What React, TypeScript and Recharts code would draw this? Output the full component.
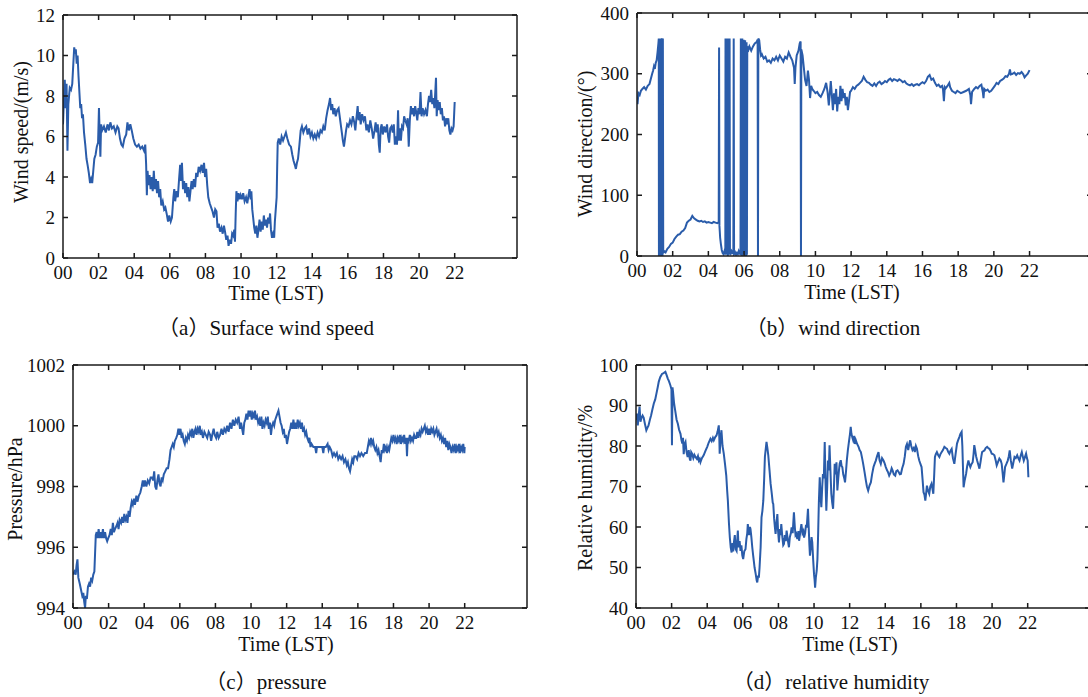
import { LineChart, Line, XAxis, YAxis } from 'recharts'

const LINE = '#2a5caa'
const AXIS = '#1a1a1a'
const SERIF = "'Liberation Serif', 'Times New Roman', 'Noto Sans CJK SC', serif"

const hourTicks = [0, 2, 4, 6, 8, 10, 12, 14, 16, 18, 20, 22]
const speedTicks = [0, 2, 4, 6, 8, 10, 12]
const dirTicks = [0, 100, 200, 300, 400]
const pressTicks = [994, 996, 998, 1000, 1002]
const rhTicks = [40, 50, 60, 70, 80, 90, 100]

// [hour, value]
const windSpeed: [number, number][] = [
  [0,6.6],[0.05,7.8],[0.1,8.8],[0.15,7.4],[0.2,8.6],[0.25,5.3],[0.3,7.6],[0.38,8.4],[0.45,8.3],[0.52,8.6],[0.58,9.6],[0.63,10.4],[0.68,10.1],[0.72,10.3],[0.77,9.6],[0.82,10.0],[0.87,9.0],[0.92,8.2],[0.97,7.4],[1.02,7.6],[1.07,6.9],[1.12,7.1],[1.18,6.2],[1.25,5.6],[1.32,4.9],[1.38,4.6],[1.45,4.2],[1.52,3.7],[1.58,3.9],[1.64,3.7],[1.7,4.3],[1.76,4.9],[1.83,5.1],[1.9,5.5],[1.97,5.7],[2.02,7.4],[2.06,6.1],[2.1,5.0],[2.14,6.6],[2.2,6.3],[2.3,6.5],[2.4,6.2],[2.5,6.6],[2.58,6.3],[2.66,6.7],[2.75,6.4],[2.85,6.5],[2.95,6.2],[3.05,6.5],[3.12,6.4],[3.2,5.9],[3.28,5.6],[3.36,5.5],[3.45,5.9],[3.55,6.1],[3.62,6.7],[3.7,6.3],[3.78,6.6],[3.86,6.3],[3.95,5.9],[4.05,5.6],[4.15,5.5],[4.25,5.6],[4.35,5.4],[4.45,5.5],[4.55,5.3],[4.62,5.6],[4.67,4.6],[4.71,3.1],[4.75,4.3],[4.8,3.6],[4.86,4.1],[4.92,3.4],[4.98,4.0],[5.04,3.3],[5.1,4.3],[5.16,3.4],[5.22,3.9],[5.28,3.2],[5.34,3.8],[5.4,3.0],[5.46,3.4],[5.52,2.6],[5.6,2.8],[5.68,2.4],[5.75,2.5],[5.82,2.2],[5.9,1.8],[5.97,2.1],[6.05,1.8],[6.12,2.0],[6.2,3.0],[6.25,3.4],[6.3,2.8],[6.38,3.3],[6.45,3.0],[6.52,3.9],[6.58,4.6],[6.63,3.8],[6.68,4.7],[6.74,3.4],[6.8,3.8],[6.86,3.2],[6.92,3.7],[6.98,3.0],[7.04,3.5],[7.1,2.8],[7.16,3.3],[7.22,3.8],[7.28,3.4],[7.35,3.9],[7.42,3.5],[7.48,4.2],[7.55,4.0],[7.62,4.5],[7.7,4.3],[7.78,4.6],[7.85,4.2],[7.92,4.7],[7.98,4.0],[8.04,4.4],[8.1,3.6],[8.16,3.0],[8.24,2.7],[8.32,2.5],[8.4,2.3],[8.48,2.0],[8.55,2.4],[8.62,2.3],[8.68,1.5],[8.75,1.7],[8.82,1.3],[8.9,1.5],[8.97,1.2],[9.04,1.6],[9.1,1.3],[9.17,0.9],[9.24,1.1],[9.3,0.6],[9.37,0.9],[9.44,0.7],[9.5,1.2],[9.56,1.1],[9.62,1.4],[9.66,0.8],[9.7,2.2],[9.74,3.3],[9.8,2.8],[9.86,3.2],[9.92,2.9],[9.98,3.1],[10.05,2.9],[10.12,3.2],[10.2,2.8],[10.28,3.0],[10.35,2.7],[10.42,3.1],[10.48,3.4],[10.54,2.9],[10.58,3.3],[10.63,2.4],[10.68,2.0],[10.74,1.5],[10.8,1.2],[10.86,1.6],[10.92,1.0],[10.98,1.4],[11.04,1.9],[11.1,1.3],[11.16,1.8],[11.22,1.4],[11.28,2.1],[11.34,1.6],[11.4,1.9],[11.46,1.5],[11.52,2.0],[11.58,1.7],[11.63,2.2],[11.68,1.4],[11.74,1.0],[11.8,1.2],[11.86,1.0],[11.9,1.8],[11.95,2.4],[12.0,3.0],[12.03,4.5],[12.06,5.7],[12.12,5.9],[12.2,5.6],[12.28,6.0],[12.36,5.8],[12.44,6.0],[12.52,6.2],[12.6,5.9],[12.7,5.6],[12.8,5.5],[12.88,5.1],[12.95,4.8],[13.02,4.6],[13.08,4.4],[13.14,4.7],[13.2,4.9],[13.28,5.6],[13.35,6.3],[13.42,6.5],[13.5,6.2],[13.58,6.4],[13.66,6.5],[13.74,6.1],[13.82,6.4],[13.9,6.0],[13.98,6.2],[14.06,5.9],[14.14,6.1],[14.22,5.9],[14.3,6.2],[14.38,6.0],[14.46,6.3],[14.54,6.2],[14.62,6.5],[14.7,6.3],[14.78,6.9],[14.86,7.3],[14.94,7.6],[15.0,7.9],[15.06,7.3],[15.12,7.6],[15.18,7.1],[15.25,7.4],[15.32,7.0],[15.4,7.3],[15.48,7.4],[15.54,7.0],[15.6,6.6],[15.66,6.2],[15.72,5.8],[15.78,5.5],[15.84,5.9],[15.9,6.3],[15.96,6.6],[16.04,6.5],[16.12,6.8],[16.2,6.6],[16.28,7.0],[16.36,6.7],[16.42,6.3],[16.48,6.9],[16.55,7.5],[16.6,6.8],[16.66,7.2],[16.72,6.6],[16.8,7.1],[16.88,6.8],[16.96,7.0],[17.04,6.3],[17.1,6.6],[17.18,6.2],[17.26,6.8],[17.34,6.4],[17.42,5.9],[17.5,6.3],[17.56,6.7],[17.62,6.2],[17.68,6.6],[17.74,5.6],[17.79,5.2],[17.84,6.4],[17.9,6.6],[17.96,6.1],[18.04,6.5],[18.12,6.2],[18.2,6.6],[18.26,6.0],[18.32,5.7],[18.38,6.4],[18.45,6.5],[18.52,6.2],[18.58,6.6],[18.64,5.6],[18.7,6.0],[18.76,5.6],[18.82,7.3],[18.86,5.8],[18.92,6.4],[18.98,5.8],[19.04,6.5],[19.1,6.4],[19.16,7.0],[19.22,6.8],[19.3,6.6],[19.36,6.9],[19.42,5.5],[19.48,6.8],[19.54,7.5],[19.6,7.1],[19.66,7.4],[19.72,7.0],[19.78,7.5],[19.84,7.2],[19.9,6.8],[19.96,7.4],[20.02,7.1],[20.08,8.2],[20.14,7.0],[20.2,7.4],[20.28,7.1],[20.36,7.3],[20.44,7.0],[20.5,7.6],[20.56,8.0],[20.62,7.7],[20.68,8.3],[20.74,7.6],[20.8,7.9],[20.86,7.4],[20.91,8.2],[20.95,8.9],[20.99,7.0],[21.04,7.8],[21.1,7.3],[21.16,7.7],[21.22,7.1],[21.28,7.4],[21.34,6.8],[21.4,7.0],[21.46,6.5],[21.52,6.9],[21.58,6.6],[21.64,6.9],[21.7,6.3],[21.76,6.1],[21.82,6.4],[21.88,6.3],[21.94,6.5],[22.0,7.7],
]

const windDir: [number, number][] = [
  [0,262],[0.03,250],[0.08,268],[0.15,265],[0.22,272],[0.3,275],[0.4,278],[0.5,274],[0.6,280],[0.7,283],[0.78,292],[0.85,300],[0.9,305],[0.95,312],[1.0,308],[1.05,318],[1.1,322],[1.15,335],[1.2,350],[1.22,358],[1.23,0],[1.25,358],[1.27,2],[1.29,357],[1.31,3],[1.33,358],[1.35,0],[1.37,358],[1.39,355],[1.41,358],[1.43,0],[1.45,358],[1.47,5],[1.52,8],[1.6,6],[1.7,12],[1.8,15],[1.9,20],[2.0,22],[2.1,28],[2.2,32],[2.3,35],[2.4,36],[2.5,40],[2.6,42],[2.7,46],[2.8,55],[2.9,58],[3.0,60],[3.1,66],[3.2,62],[3.3,60],[3.4,58],[3.5,57],[3.6,58],[3.7,56],[3.8,57],[3.9,55],[4.0,56],[4.1,55],[4.2,54],[4.3,56],[4.4,55],[4.5,54],[4.58,56],[4.6,343],[4.62,50],[4.66,30],[4.7,20],[4.75,10],[4.8,5],[4.85,3],[4.9,8],[4.95,4],[4.96,358],[4.97,2],[4.99,358],[5.01,3],[5.03,358],[5.05,5],[5.07,358],[5.09,0],[5.11,358],[5.13,4],[5.15,358],[5.17,2],[5.19,358],[5.21,6],[5.25,4],[5.3,8],[5.35,5],[5.4,6],[5.42,358],[5.44,3],[5.5,6],[5.55,2],[5.6,5],[5.65,3],[5.7,8],[5.75,4],[5.8,3],[5.82,358],[5.84,2],[5.86,355],[5.88,0],[5.9,358],[5.92,4],[5.94,350],[5.96,2],[5.98,356],[6.0,3],[6.02,352],[6.04,0],[6.06,355],[6.08,2],[6.1,350],[6.12,0],[6.14,352],[6.16,2],[6.18,345],[6.25,340],[6.3,345],[6.4,338],[6.5,345],[6.6,350],[6.7,352],[6.76,356],[6.78,0],[6.8,358],[6.85,355],[6.9,340],[6.95,330],[7.0,332],[7.1,325],[7.2,328],[7.3,320],[7.4,322],[7.5,318],[7.6,325],[7.7,322],[7.8,328],[7.9,322],[8.0,330],[8.1,325],[8.2,320],[8.3,328],[8.4,325],[8.5,335],[8.6,328],[8.7,322],[8.8,310],[8.84,283],[8.88,310],[8.95,330],[9.05,338],[9.12,350],[9.17,353],[9.19,0],[9.21,340],[9.28,330],[9.35,310],[9.42,290],[9.5,280],[9.58,305],[9.64,290],[9.7,260],[9.76,280],[9.82,275],[9.9,272],[10.0,268],[10.1,270],[10.2,265],[10.3,262],[10.4,268],[10.5,275],[10.6,285],[10.68,270],[10.75,248],[10.8,265],[10.86,288],[10.92,265],[10.98,240],[11.04,268],[11.1,250],[11.16,275],[11.22,238],[11.28,262],[11.34,250],[11.4,280],[11.46,255],[11.52,275],[11.58,260],[11.64,268],[11.7,248],[11.76,262],[11.82,240],[11.88,255],[11.94,270],[12.0,272],[12.1,278],[12.2,275],[12.3,280],[12.4,282],[12.5,285],[12.6,288],[12.7,295],[12.8,290],[12.9,286],[13.0,285],[13.1,282],[13.2,280],[13.3,284],[13.4,280],[13.5,285],[13.6,287],[13.7,283],[13.8,285],[13.9,288],[14.0,286],[14.1,290],[14.2,292],[14.3,288],[14.4,291],[14.5,290],[14.6,288],[14.7,291],[14.8,289],[14.9,286],[15.0,288],[15.1,284],[15.2,282],[15.3,281],[15.4,283],[15.5,280],[15.6,282],[15.7,283],[15.8,281],[15.9,284],[16.0,286],[16.1,284],[16.2,288],[16.3,295],[16.4,298],[16.5,290],[16.6,292],[16.7,285],[16.8,280],[16.9,282],[17.0,278],[17.1,280],[17.15,274],[17.2,255],[17.25,278],[17.3,276],[17.4,280],[17.5,285],[17.55,278],[17.65,272],[17.75,270],[17.85,268],[17.95,272],[18.05,270],[18.15,268],[18.3,270],[18.45,272],[18.6,275],[18.68,265],[18.72,250],[18.78,270],[18.9,275],[19.0,278],[19.1,276],[19.2,280],[19.3,282],[19.38,270],[19.42,260],[19.46,275],[19.55,272],[19.65,274],[19.75,270],[19.85,272],[19.95,276],[20.05,280],[20.15,285],[20.25,283],[20.35,288],[20.45,290],[20.55,292],[20.65,296],[20.75,295],[20.85,300],[20.9,307],[20.95,299],[21.05,300],[21.15,302],[21.25,298],[21.35,301],[21.45,300],[21.55,303],[21.65,299],[21.72,294],[21.8,297],[21.9,300],[22.0,306],
]

const pressure: [number, number][] = [
  [0,995.1],[0.08,995.2],[0.15,995.1],[0.2,995.4],[0.25,995.6],[0.3,995.0],[0.38,994.8],[0.45,994.6],[0.52,994.4],[0.58,994.5],[0.63,994.2],[0.68,994.0],[0.72,994.4],[0.78,994.3],[0.84,994.7],[0.9,994.8],[0.96,994.7],[1.02,995.0],[1.08,994.9],[1.14,995.1],[1.2,995.2],[1.24,995.8],[1.28,996.4],[1.33,996.5],[1.38,996.3],[1.44,996.6],[1.5,996.3],[1.56,996.5],[1.62,996.3],[1.68,996.6],[1.74,996.3],[1.8,996.5],[1.86,996.3],[1.92,996.2],[1.98,996.3],[2.05,996.4],[2.12,996.6],[2.18,996.4],[2.24,996.8],[2.3,996.5],[2.36,996.6],[2.44,996.7],[2.5,996.8],[2.56,996.6],[2.62,996.9],[2.7,996.8],[2.76,997.0],[2.82,996.8],[2.88,997.1],[2.94,996.9],[3.0,997.0],[3.06,996.8],[3.12,997.2],[3.18,997.0],[3.24,997.3],[3.3,997.5],[3.36,997.4],[3.42,997.6],[3.48,997.4],[3.56,997.7],[3.62,997.5],[3.7,997.7],[3.78,997.8],[3.86,998.0],[3.92,998.2],[3.98,998.0],[4.04,998.2],[4.12,998.0],[4.2,998.2],[4.28,998.1],[4.36,998.3],[4.44,998.3],[4.5,998.2],[4.56,998.5],[4.62,998.0],[4.68,997.9],[4.74,998.2],[4.8,998.4],[4.86,998.1],[4.92,998.0],[4.98,998.3],[5.04,998.2],[5.1,998.4],[5.18,998.5],[5.26,998.6],[5.34,998.6],[5.42,998.9],[5.48,999.2],[5.54,999.3],[5.6,999.4],[5.66,999.3],[5.72,999.5],[5.8,999.6],[5.86,999.7],[5.92,999.9],[5.98,999.7],[6.04,999.9],[6.1,999.6],[6.16,999.7],[6.22,999.5],[6.28,999.4],[6.34,999.6],[6.4,999.5],[6.46,999.7],[6.52,999.6],[6.58,999.8],[6.64,999.7],[6.7,999.9],[6.76,999.6],[6.82,999.8],[6.88,999.9],[6.94,999.7],[7.0,999.9],[7.06,999.8],[7.12,1000.0],[7.18,999.7],[7.24,999.8],[7.3,999.6],[7.38,999.8],[7.46,999.7],[7.54,999.6],[7.62,999.8],[7.7,999.7],[7.76,999.5],[7.82,999.7],[7.9,999.9],[7.96,999.7],[8.04,999.6],[8.1,999.8],[8.18,999.6],[8.26,999.7],[8.34,999.9],[8.42,999.7],[8.5,999.9],[8.58,999.8],[8.66,1000.0],[8.74,999.8],[8.82,1000.1],[8.9,999.9],[8.98,1000.2],[9.06,1000.0],[9.14,1000.2],[9.22,1000.1],[9.3,1000.3],[9.38,999.9],[9.44,1000.1],[9.5,999.9],[9.56,999.7],[9.62,1000.1],[9.68,1000.2],[9.74,1000.4],[9.8,1000.2],[9.86,1000.5],[9.92,1000.3],[9.98,1000.5],[10.04,1000.2],[10.1,1000.4],[10.16,1000.3],[10.22,1000.5],[10.28,1000.2],[10.34,1000.3],[10.4,1000.1],[10.46,1000.2],[10.52,1000.0],[10.58,1000.3],[10.64,999.9],[10.7,1000.1],[10.76,1000.0],[10.82,1000.2],[10.88,1000.1],[10.94,1000.3],[11.0,999.9],[11.06,1000.1],[11.12,999.7],[11.18,1000.0],[11.24,1000.1],[11.3,1000.0],[11.36,1000.2],[11.42,1000.3],[11.48,1000.4],[11.54,1000.5],[11.6,1000.3],[11.66,1000.1],[11.72,1000.0],[11.78,999.8],[11.84,999.9],[11.9,999.6],[11.96,999.7],[12.02,999.4],[12.08,999.6],[12.14,999.8],[12.2,999.9],[12.26,1000.1],[12.32,999.9],[12.38,1000.2],[12.44,999.9],[12.5,1000.1],[12.56,999.9],[12.62,1000.2],[12.68,1000.0],[12.74,1000.1],[12.8,999.9],[12.86,1000.1],[12.92,999.8],[12.98,999.9],[13.04,999.7],[13.1,999.8],[13.16,999.6],[13.22,999.5],[13.28,999.6],[13.34,999.3],[13.4,999.4],[13.5,999.3],[13.6,999.3],[13.66,999.1],[13.7,999.3],[13.8,999.3],[13.9,999.3],[14.0,999.3],[14.06,999.1],[14.1,999.3],[14.2,999.3],[14.3,999.4],[14.36,999.2],[14.42,999.3],[14.5,999.2],[14.58,999.0],[14.66,999.1],[14.74,999.0],[14.82,999.1],[14.9,998.9],[14.98,999.0],[15.06,998.9],[15.14,999.0],[15.22,998.8],[15.3,998.9],[15.38,998.7],[15.44,998.8],[15.5,998.6],[15.56,998.5],[15.62,998.7],[15.68,998.9],[15.74,998.8],[15.8,999.0],[15.88,999.0],[15.96,998.9],[16.04,999.1],[16.12,999.0],[16.2,999.1],[16.3,999.0],[16.4,999.1],[16.5,999.1],[16.56,999.3],[16.62,999.5],[16.68,999.4],[16.74,999.6],[16.8,999.4],[16.86,999.5],[16.92,999.3],[16.98,999.2],[17.04,999.3],[17.1,999.1],[17.16,999.2],[17.22,999.0],[17.28,998.8],[17.34,999.2],[17.4,999.1],[17.46,999.4],[17.52,999.2],[17.58,999.3],[17.64,999.1],[17.7,999.3],[17.76,999.2],[17.82,999.4],[17.88,999.6],[17.94,999.5],[18.0,999.7],[18.06,999.5],[18.12,999.6],[18.18,999.4],[18.24,999.6],[18.3,999.5],[18.36,999.7],[18.42,999.4],[18.48,999.6],[18.54,999.5],[18.6,999.7],[18.66,999.4],[18.72,999.6],[18.76,999.0],[18.8,999.6],[18.86,999.5],[18.92,999.7],[18.98,999.5],[19.04,999.6],[19.1,999.5],[19.16,999.7],[19.22,999.6],[19.28,999.6],[19.34,999.8],[19.4,999.6],[19.46,999.8],[19.52,999.7],[19.58,999.9],[19.64,999.8],[19.7,999.9],[19.76,1000.0],[19.82,999.8],[19.88,999.9],[19.94,999.7],[20.0,999.9],[20.06,999.7],[20.12,999.9],[20.18,999.8],[20.24,999.9],[20.3,999.7],[20.36,999.8],[20.42,999.9],[20.48,999.7],[20.54,999.8],[20.6,999.6],[20.66,999.7],[20.72,999.5],[20.78,999.6],[20.84,999.4],[20.9,999.6],[20.96,999.3],[21.02,999.5],[21.08,999.2],[21.14,999.4],[21.2,999.3],[21.26,999.1],[21.32,999.3],[21.38,999.2],[21.44,999.4],[21.5,999.1],[21.56,999.3],[21.62,999.2],[21.68,999.4],[21.74,999.1],[21.8,999.3],[21.86,999.2],[21.92,999.4],[21.98,999.1],[22.0,999.3],
]

const humidity: [number, number][] = [
  [0,86.4],[0.05,88],[0.1,85.1],[0.15,87.5],[0.2,89.7],[0.25,86],[0.3,86.8],[0.37,87.5],[0.43,87],[0.5,85.5],[0.58,83.9],[0.64,84.5],[0.7,85],[0.78,86.5],[0.85,87.6],[0.92,89],[1.0,90.5],[1.08,91.5],[1.15,93],[1.22,94.5],[1.28,95.9],[1.36,97],[1.46,97.8],[1.55,98],[1.65,98.3],[1.72,97.5],[1.78,96.7],[1.85,96],[1.93,95],[1.99,94],[2.02,80.2],[2.05,94.5],[2.08,93.4],[2.14,90.5],[2.2,88.8],[2.28,86.5],[2.35,85.5],[2.42,84],[2.5,83],[2.55,81.5],[2.6,80.6],[2.64,82],[2.68,78],[2.73,80.5],[2.78,81],[2.84,78.5],[2.9,77.3],[2.96,79],[3.02,76.8],[3.06,76.4],[3.1,78.5],[3.15,78.1],[3.22,77],[3.28,77.8],[3.34,77.3],[3.42,76.8],[3.48,77.5],[3.53,76.4],[3.58,76.8],[3.62,76],[3.7,77],[3.8,77.7],[3.9,78.8],[4.0,79.8],[4.08,80.8],[4.18,81.8],[4.25,81.2],[4.32,82],[4.37,81.4],[4.45,82.2],[4.52,82.6],[4.58,83.5],[4.65,85.1],[4.68,82],[4.7,78.1],[4.74,81],[4.8,83.9],[4.86,80],[4.93,78.1],[5.0,75.5],[5.07,72.7],[5.12,69],[5.16,66.5],[5.22,61],[5.27,57.4],[5.32,55],[5.37,53.7],[5.42,56],[5.46,54],[5.5,56.2],[5.55,58],[5.6,54.5],[5.65,54.1],[5.72,59.1],[5.76,55],[5.82,56.5],[5.87,54.1],[5.92,55.5],[5.97,53],[6.02,52.1],[6.08,54],[6.15,54.5],[6.2,57],[6.25,58.5],[6.28,60.7],[6.34,58],[6.4,60],[6.43,59.5],[6.48,57.5],[6.53,55],[6.58,53],[6.62,51.5],[6.66,50],[6.72,48.5],[6.78,46.8],[6.81,46.3],[6.86,48],[6.9,47.5],[6.94,50],[7.0,55],[7.05,62.4],[7.1,64],[7.15,66.5],[7.2,72],[7.24,77.3],[7.28,79],[7.33,81],[7.38,79.5],[7.43,77.7],[7.5,74],[7.56,70.7],[7.62,68.5],[7.68,66],[7.71,65.7],[7.76,62],[7.8,60],[7.84,58.3],[7.89,61],[7.94,63.2],[7.98,59],[8.03,56.2],[8.08,59.5],[8.12,58],[8.16,60.7],[8.22,57.5],[8.27,55.5],[8.31,55.8],[8.36,58],[8.41,56.5],[8.46,59.1],[8.52,57],[8.59,55],[8.64,57.5],[8.7,58.5],[8.74,59.9],[8.8,58.5],[8.87,63.6],[8.92,60],[8.96,58],[9.0,58.3],[9.06,57],[9.12,59],[9.16,56.6],[9.22,58.5],[9.29,60.7],[9.35,58.5],[9.4,59],[9.44,57.4],[9.5,58.5],[9.55,60.5],[9.59,59.9],[9.66,64.5],[9.7,60],[9.74,55.5],[9.77,52.9],[9.82,55],[9.86,57.5],[9.9,56.2],[9.95,52],[10.0,48.3],[10.03,47],[10.06,45],[10.1,47.5],[10.15,49.2],[10.19,52],[10.23,58.3],[10.27,66],[10.32,72.3],[10.36,68],[10.41,64.9],[10.46,70],[10.5,73.1],[10.55,72],[10.6,81],[10.64,72],[10.69,64],[10.74,70],[10.78,76.4],[10.83,74],[10.87,80.2],[10.92,74],[10.97,68.2],[11.02,66],[11.07,64.5],[11.12,70],[11.16,75.6],[11.22,73],[11.26,76],[11.31,69],[11.36,72],[11.4,74],[11.44,75.6],[11.5,76.5],[11.55,75],[11.59,74.8],[11.64,73],[11.7,72],[11.74,71],[11.8,74],[11.84,76.4],[11.9,79],[11.97,81.4],[12.02,83],[12.06,84.7],[12.1,83],[12.16,82],[12.2,81.4],[12.26,82.5],[12.3,80.5],[12.35,81.4],[12.42,80.5],[12.5,79.8],[12.56,79],[12.63,78.5],[12.7,77],[12.76,75.6],[12.84,73.5],[12.91,71.5],[12.97,70],[13.04,69],[13.1,70],[13.14,70.5],[13.19,71],[13.26,73],[13.34,74.8],[13.4,75.6],[13.47,76.4],[13.54,77.5],[13.62,78.5],[13.68,76.5],[13.75,75.6],[13.82,77],[13.9,76.4],[13.96,75.8],[14.03,74.8],[14.1,74],[14.16,73.5],[14.22,72.7],[14.3,73.5],[14.36,74.5],[14.41,74],[14.48,73],[14.56,72.7],[14.62,73.8],[14.69,74],[14.76,73.5],[14.82,73],[14.88,73.1],[14.95,74.5],[15.03,75.6],[15.1,77.5],[15.16,79.8],[15.22,80.5],[15.29,79],[15.35,80.5],[15.4,81.4],[15.46,80],[15.53,79],[15.6,79.5],[15.66,78.5],[15.72,80],[15.78,79.3],[15.85,77.5],[15.91,76.4],[15.98,75.5],[16.04,74.8],[16.1,71.5],[16.15,68.6],[16.2,68],[16.25,66.5],[16.3,68.5],[16.34,70.2],[16.4,69],[16.47,68.2],[16.53,70],[16.6,70.7],[16.65,69.5],[16.7,68.2],[16.75,73],[16.79,77.3],[16.84,78],[16.9,78.5],[16.97,77.8],[17.04,77.3],[17.1,78],[17.17,78.5],[17.24,79],[17.32,79.8],[17.4,79.5],[17.47,79.3],[17.54,78.5],[17.6,78.1],[17.66,78.8],[17.73,79.3],[17.8,77],[17.88,75.6],[17.95,78],[18.03,80.6],[18.1,81.5],[18.16,82.2],[18.22,83],[18.29,83.5],[18.33,80],[18.37,74],[18.4,69.8],[18.46,71.5],[18.54,73.1],[18.6,75],[18.67,76.4],[18.72,75.5],[18.78,74.8],[18.84,75.5],[18.91,76],[18.96,78],[19.0,80.2],[19.05,79],[19.1,77.5],[19.16,76.4],[19.22,75.5],[19.29,74.4],[19.35,76],[19.4,77.5],[19.44,78.5],[19.5,78.7],[19.57,78.9],[19.64,79.5],[19.72,79.8],[19.78,79.5],[19.85,79.3],[19.92,78.8],[19.98,78.1],[20.05,78],[20.13,77.7],[20.2,76.5],[20.26,75.2],[20.33,76],[20.41,76.9],[20.48,76.5],[20.54,75.6],[20.6,73],[20.64,71],[20.69,73],[20.73,74.8],[20.8,75.5],[20.88,76.4],[20.94,77.5],[20.99,78.9],[21.05,76.5],[21.13,74.4],[21.2,76],[21.26,77.3],[21.33,77],[21.41,77.7],[21.47,77],[21.54,76.4],[21.6,77.5],[21.67,78.5],[21.72,77.5],[21.78,76.4],[21.85,77.3],[21.91,78.1],[21.96,77],[22.0,76.4],[22.04,72.3],
]

const tickText = { fontFamily: SERIF, fontSize: 19, fill: '#111' }

// tickSize/tickMargin are 0, so x/y arrive on the axis line itself
function BottomTick({ x, y, payload }: any) {
  return (
    <g>
      <line x1={x} x2={x} y1={y} y2={y - 5} stroke={AXIS} strokeWidth={1.5} />
      <text x={x} y={y + 14} textAnchor="middle" dominantBaseline="central" {...tickText}>
        {String(payload.value).padStart(2, '0')}
      </text>
    </g>
  )
}

function TopTick({ x, y }: any) {
  return <line x1={x} x2={x} y1={y} y2={y + 5} stroke={AXIS} strokeWidth={1.5} />
}

function LeftTick({ x, y, payload }: any) {
  return (
    <g>
      <line x1={x} x2={x + 5} y1={y} y2={y} stroke={AXIS} strokeWidth={1.5} />
      <text x={x - 8} y={y} textAnchor="end" dominantBaseline="central" {...tickText}>
        {payload.value}
      </text>
    </g>
  )
}

function RightTick({ x, y }: any) {
  return <line x1={x} x2={x - 5} y1={y} y2={y} stroke={AXIS} strokeWidth={1.5} />
}

type PanelProps = {
  series: [number, number][]
  left: number
  top: number
  width: number
  height: number
  margin: { top: number; right: number; bottom: number; left: number }
  yDomain: [number, number]
  yTicks: number[]
}

// axes are 1px thick, so each margin is one less than the plot edge
function Panel({ series, left, top, width, height, margin, yDomain, yTicks }: PanelProps) {
  const data = series.map(([h, v]) => ({ h, v }))
  const axisLine = { stroke: AXIS, strokeWidth: 1.5 }
  const m = { top: margin.top - 1, right: margin.right - 1, bottom: margin.bottom - 1, left: margin.left - 1 }
  return (
    <div style={{ position: 'absolute', left, top }}>
      <LineChart width={width} height={height} data={data} margin={m}>
        <XAxis dataKey="h" type="number" domain={[0, 25.5]} ticks={hourTicks} interval={0}
          allowDataOverflow height={1} tickSize={0} tickMargin={0} tickLine={false}
          axisLine={axisLine} tick={<BottomTick />} />
        <XAxis xAxisId="top" orientation="top" dataKey="h" type="number" domain={[0, 25.5]}
          ticks={hourTicks} interval={0} allowDataOverflow height={1} tickSize={0} tickMargin={0}
          tickLine={false} axisLine={axisLine} tick={<TopTick />} />
        <YAxis type="number" domain={yDomain} ticks={yTicks} interval={0} allowDataOverflow
          width={1} tickSize={0} tickMargin={0} tickLine={false} axisLine={axisLine} tick={<LeftTick />} />
        <YAxis yAxisId="right" orientation="right" type="number" domain={yDomain} ticks={yTicks}
          interval={0} allowDataOverflow width={1} tickSize={0} tickMargin={0} tickLine={false}
          axisLine={axisLine} tick={<RightTick />} />
        <Line type="linear" dataKey="v" stroke={LINE} strokeWidth={2} dot={false}
          isAnimationActive={false} />
      </LineChart>
    </div>
  )
}

function Txt({ x, y, size = 20, rotate = false, children }: any) {
  return (
    <div style={{
      position: 'absolute', left: x, top: y, fontFamily: SERIF, fontSize: size, lineHeight: 1,
      color: '#111', whiteSpace: 'nowrap',
      transform: `translate(-50%, -50%)${rotate ? ' rotate(-90deg)' : ''}`,
    }}>
      {children}
    </div>
  )
}

export default function App() {
  return (
    <div style={{ position: 'absolute', left: 0, top: 0, width: 1088, height: 697, overflow: 'hidden', background: '#fff' }}>
      <Panel series={windSpeed} left={0} top={0} width={544} height={348}
        margin={{ top: 15, left: 63, right: 27, bottom: 90 }} yDomain={[0, 12]} yTicks={speedTicks} />
      <Panel series={windDir} left={544} top={0} width={560} height={348}
        margin={{ top: 13, left: 93, right: 12, bottom: 92 }} yDomain={[0, 400]} yTicks={dirTicks} />
      <Panel series={pressure} left={0} top={348} width={544} height={349}
        margin={{ top: 17, left: 73, right: 17, bottom: 89 }} yDomain={[994, 1002]} yTicks={pressTicks} />
      <Panel series={humidity} left={544} top={348} width={560} height={349}
        margin={{ top: 17, left: 92, right: 14, bottom: 89 }} yDomain={[40, 100]} yTicks={rhTicks} />

      <Txt x={21} y={132} rotate>Wind speed/(m/s)</Txt>
      <Txt x={585} y={144} rotate>Wind direction/(°)</Txt>
      <Txt x={15} y={489} rotate>Pressure/hPa</Txt>
      <Txt x={585} y={488} rotate>Relative humidity/%</Txt>

      <Txt x={276} y={293}>Time (LST)</Txt>
      <Txt x={852} y={292}>Time (LST)</Txt>
      <Txt x={286} y={644}>Time (LST)</Txt>
      <Txt x={850} y={644}>Time (LST)</Txt>

      <Txt x={266} y={328} size={21}>（a）Surface wind speed</Txt>
      <Txt x={833} y={328} size={21}>（b）wind direction</Txt>
      <Txt x={266} y={682} size={21}>（c）pressure</Txt>
      <Txt x={831} y={682} size={21}>（d）relative humidity</Txt>
    </div>
  )
}
